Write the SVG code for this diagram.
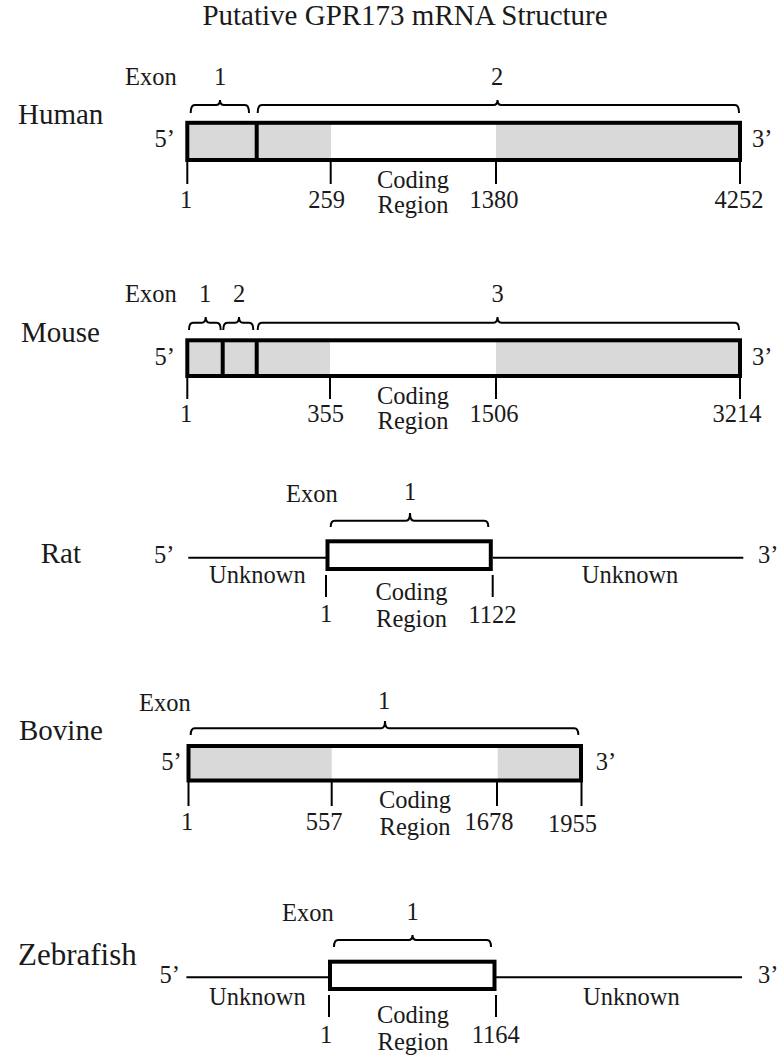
<svg xmlns="http://www.w3.org/2000/svg" width="784" height="1060" viewBox="0 0 784 1060">
<style>
text{font-family:"Liberation Serif","Times New Roman",serif;fill:#1a1a1a}
.t{font-size:29px}
.sp{font-size:29px}
.lb{font-size:24.5px}
.m{text-anchor:middle}
.e{text-anchor:end}
.box{fill:none;stroke:#000;stroke-width:4}
.wbox{fill:#fff;stroke:#000;stroke-width:4}
.gray{fill:#d9d9d9}
.br{fill:none;stroke:#000;stroke-width:2}
.tk{stroke:#000;stroke-width:2}
.dv{stroke:#000;stroke-width:4}
.ln{stroke:#000;stroke-width:2}
</style>
<rect width="784" height="1060" fill="#fff"/>
<text class="t m" x="405" y="25">Putative GPR173 mRNA Structure</text>

<g id="human">
<text class="sp" x="18" y="124">Human</text>
<text class="lb" x="125" y="85">Exon</text>
<text class="lb m" x="220" y="85">1</text>
<text class="lb m" x="497" y="85">2</text>
<path class="br" d="M190.7,113 Q190.7,105 194.7,105 L216,105 Q220,105 220,100 Q220,105 224,105 L245,105 Q249,105 249,113"/>
<path class="br" d="M257.7,113 Q257.7,105 261.7,105 L493.5,105 Q497.5,105 497.5,100 Q497.5,105 501.5,105 L735,105 Q739,105 739,113"/>
<rect class="gray" x="187" y="123" width="144" height="37"/>
<rect class="gray" x="496" y="123" width="244" height="37"/>
<rect class="box" x="187.3" y="122.8" width="552.7" height="37.2"/>
<line class="dv" x1="256.7" y1="122.8" x2="256.7" y2="160"/>
<text class="lb e" x="175" y="147">5’</text>
<text class="lb" x="752" y="147">3’</text>
<line class="tk" x1="187.3" y1="160" x2="187.3" y2="184"/>
<line class="tk" x1="330.7" y1="160" x2="330.7" y2="184"/>
<line class="tk" x1="496" y1="160" x2="496" y2="184"/>
<line class="tk" x1="740" y1="160" x2="740" y2="184"/>
<text class="lb m" x="186" y="208">1</text>
<text class="lb m" x="326.5" y="208">259</text>
<text class="lb m" x="494" y="208">1380</text>
<text class="lb m" x="739" y="208">4252</text>
<text class="lb m" x="413" y="188">Coding</text>
<text class="lb m" x="413" y="213">Region</text>
</g>

<g id="mouse">
<text class="sp" x="21" y="342">Mouse</text>
<text class="lb" x="125" y="302">Exon</text>
<text class="lb m" x="205" y="302">1</text>
<text class="lb m" x="239" y="302">2</text>
<text class="lb m" x="497.5" y="302">3</text>
<path class="br" d="M189,330 Q189,322.7 193,322.7 L201.7,322.7 Q205.7,322.7 205.7,317 Q205.7,322.7 209.7,322.7 L216.7,322.7 Q220.7,322.7 220.7,330"/>
<path class="br" d="M223.3,330 Q223.3,322.7 227.3,322.7 L235,322.7 Q239,322.7 239,317 Q239,322.7 243,322.7 L249.3,322.7 Q253.3,322.7 253.3,330"/>
<path class="br" d="M257.7,330 Q257.7,322.7 261.7,322.7 L493.5,322.7 Q497.5,322.7 497.5,317 Q497.5,322.7 501.5,322.7 L735,322.7 Q739,322.7 739,330"/>
<rect class="gray" x="187" y="340.5" width="143" height="35.5"/>
<rect class="gray" x="496" y="340.5" width="244" height="35.5"/>
<rect class="box" x="187.3" y="340.3" width="552.7" height="35.7"/>
<line class="dv" x1="222.7" y1="340.3" x2="222.7" y2="376"/>
<line class="dv" x1="256.7" y1="340.3" x2="256.7" y2="376"/>
<text class="lb e" x="175" y="365">5’</text>
<text class="lb" x="752" y="365">3’</text>
<line class="tk" x1="187.3" y1="376" x2="187.3" y2="399"/>
<line class="tk" x1="330" y1="376" x2="330" y2="399"/>
<line class="tk" x1="496" y1="376" x2="496" y2="399"/>
<line class="tk" x1="740" y1="376" x2="740" y2="399"/>
<text class="lb m" x="186" y="422">1</text>
<text class="lb m" x="325.5" y="422">355</text>
<text class="lb m" x="494" y="422">1506</text>
<text class="lb m" x="737" y="422">3214</text>
<text class="lb m" x="413" y="404">Coding</text>
<text class="lb m" x="413" y="429">Region</text>
</g>

<g id="rat">
<text class="sp" x="40.7" y="563">Rat</text>
<text class="lb" x="154" y="562.7">5’</text>
<text class="lb" x="758" y="562.7">3’</text>
<text class="lb" x="286" y="501.7">Exon</text>
<text class="lb m" x="410" y="500">1</text>
<path class="br" d="M330.7,527 Q330.7,520.7 334.7,520.7 L406,520.7 Q410,520.7 410,513 Q410,520.7 414,520.7 L484.3,520.7 Q488.3,520.7 488.3,527"/>
<rect class="wbox" x="327.5" y="541.3" width="163.3" height="27.7"/>
<text class="lb" x="209" y="583.3">Unknown</text>
<text class="lb" x="581.7" y="583.3">Unknown</text>
<line class="tk" x1="326" y1="575" x2="326" y2="597"/>
<line class="tk" x1="492.7" y1="575" x2="492.7" y2="597"/>
<text class="lb m" x="326" y="622">1</text>
<text class="lb m" x="492.5" y="623">1122</text>
<text class="lb m" x="411.5" y="600">Coding</text>
<text class="lb m" x="411.5" y="627">Region</text>
</g>

<g id="bovine">
<text class="sp" x="19" y="740">Bovine</text>
<text class="lb" x="139" y="711">Exon</text>
<text class="lb m" x="384" y="709">1</text>
<path class="br" d="M190.7,735 Q190.7,728.3 194.7,728.3 L381,728.3 Q385,728.3 385,721 Q385,728.3 389,728.3 L574.3,728.3 Q578.3,728.3 578.3,735"/>
<rect class="gray" x="188.5" y="746" width="143.2" height="34.5"/>
<rect class="gray" x="497.7" y="746" width="83.3" height="34.5"/>
<rect class="box" x="188.5" y="746" width="392.5" height="34.5"/>
<text class="lb e" x="181.7" y="770">5’</text>
<text class="lb" x="595.7" y="770">3’</text>
<line class="tk" x1="188.5" y1="780.5" x2="188.5" y2="806"/>
<line class="tk" x1="331.7" y1="780.5" x2="331.7" y2="806"/>
<line class="tk" x1="497" y1="780.5" x2="497" y2="806"/>
<line class="tk" x1="581.5" y1="780.5" x2="581.5" y2="806"/>
<text class="lb m" x="187" y="830">1</text>
<text class="lb m" x="324" y="830">557</text>
<text class="lb m" x="489" y="830">1678</text>
<text class="lb m" x="572.5" y="832">1955</text>
<text class="lb m" x="415" y="808">Coding</text>
<text class="lb m" x="415" y="835">Region</text>
</g>

<g id="zebrafish">
<text class="sp" x="18" y="965" style="font-size:31px">Zebrafish</text>
<text class="lb" x="159.6" y="983">5’</text>
<text class="lb" x="758" y="983">3’</text>
<text class="lb" x="282" y="920.7">Exon</text>
<text class="lb m" x="412.5" y="920">1</text>
<path class="br" d="M334,947 Q334,940 338,940 L408.5,940 Q412.5,940 412.5,935 Q412.5,940 416.5,940 L487,940 Q491,940 491,947"/>
<rect class="wbox" x="330" y="961.7" width="164.5" height="27.3"/>
<text class="lb" x="209" y="1005">Unknown</text>
<text class="lb" x="583" y="1005">Unknown</text>
<line class="tk" x1="329" y1="995" x2="329" y2="1017"/>
<line class="tk" x1="496" y1="995" x2="496" y2="1017"/>
<text class="lb m" x="326" y="1043">1</text>
<text class="lb m" x="495.8" y="1043">1164</text>
<text class="lb m" x="413" y="1023">Coding</text>
<text class="lb m" x="413" y="1050">Region</text>
</g>

<g id="connectors">
<line class="ln" x1="188.3" y1="557.7" x2="327.5" y2="557.7"/>
<line class="ln" x1="493" y1="557.7" x2="743.3" y2="557.7"/>
<line class="ln" x1="186.4" y1="977.3" x2="330" y2="977.3"/>
<line class="ln" x1="494.5" y1="977.3" x2="742" y2="977.3"/>
</g>
</svg>
